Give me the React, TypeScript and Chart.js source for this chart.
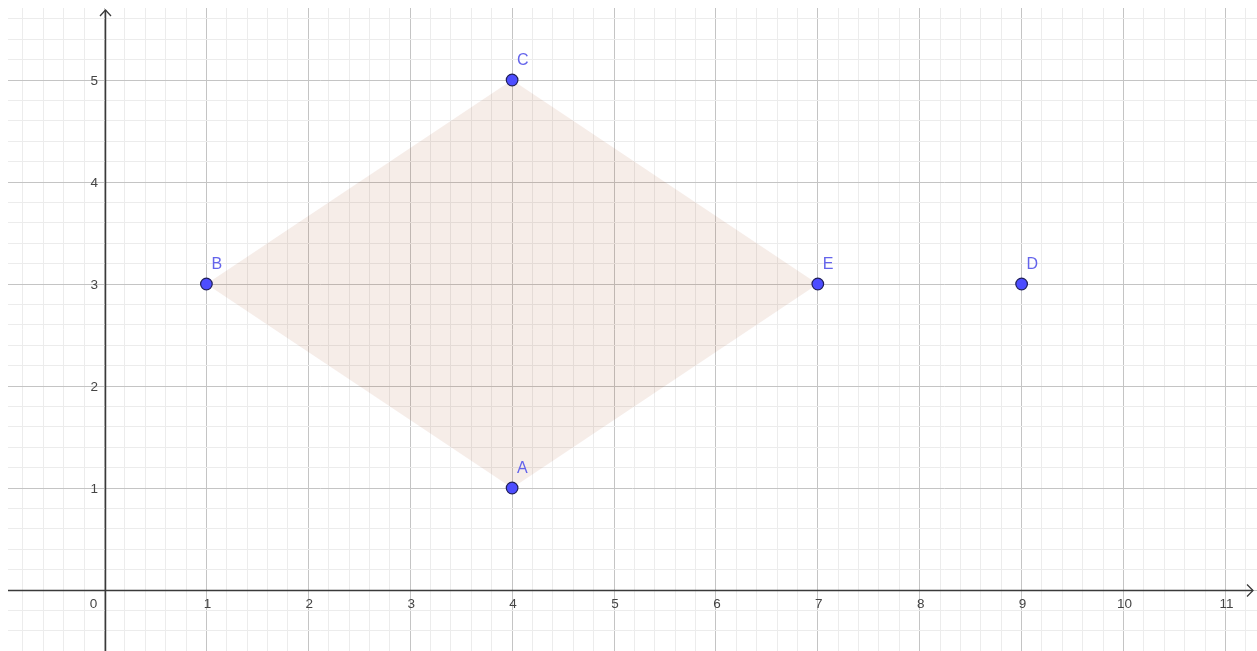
import React, { useEffect, useRef } from "react";
import { Chart, registerables } from "chart.js";

Chart.register(...registerables);

// Data
const pointNames = ["A", "B", "C", "D", "E"];
const pointX = [4, 1, 4, 9, 7];
const pointY = [1, 3, 5, 3, 3];
// Polygon vertices (closed): B -> C -> E -> A -> B
const polygonX = [1, 4, 7, 4, 1];
const polygonY = [3, 5, 3, 1, 3];
// Axis tick labels
const xTickLabels = [0, 1, 2, 3, 4, 5, 6, 7, 8, 9, 10, 11];
const yTickLabels = [1, 2, 3, 4, 5];

const X_MIN = -0.947;
const X_MAX = 11.31;
const Y_MIN = -0.598;
const Y_MAX = 5.706;

const W = 1257;
const H = 651;
const PAD = 8;

const gridTicks = (min: number, max: number) => {
  const out: { value: number }[] = [];
  for (let i = Math.ceil(min * 5); i <= Math.floor(max * 5); i++) {
    out.push({ value: i / 5 });
  }
  return out;
};

const isMajor = (v: number) => Math.abs(v - Math.round(v)) < 1e-6;

const decorPlugin = {
  id: "decor",
  beforeDatasetsDraw(chart: any) {
    const ctx = chart.ctx;
    const xs = chart.scales.x;
    const ys = chart.scales.y;
    const x0 = Math.round(xs.getPixelForValue(0)) + 0.5;
    const y0 = Math.round(ys.getPixelForValue(0)) + 0.5;
    ctx.save();
    // axes
    ctx.strokeStyle = "#3a3a3a";
    ctx.lineWidth = 1.5;
    ctx.beginPath();
    ctx.moveTo(PAD, y0);
    ctx.lineTo(W - 4, y0);
    ctx.moveTo(x0, H);
    ctx.lineTo(x0, 10);
    ctx.stroke();
    // arrows
    ctx.lineWidth = 1.3;
    ctx.beginPath();
    ctx.moveTo(x0 - 5.5, 16);
    ctx.lineTo(x0, 10);
    ctx.lineTo(x0 + 5.5, 16);
    ctx.moveTo(W - 10, y0 - 6);
    ctx.lineTo(W - 4, y0);
    ctx.lineTo(W - 10, y0 + 6);
    ctx.stroke();
    // tick labels
    ctx.fillStyle = "#454545";
    ctx.font = "13.5px 'Liberation Sans', Arial, sans-serif";
    ctx.textBaseline = "middle";
    ctx.textAlign = "center";
    xTickLabels.forEach((v) => {
      const px = xs.getPixelForValue(v);
      if (v === 0) {
        ctx.fillText(String(v), px - 11, y0 + 13.5);
      } else {
        ctx.fillText(String(v), px + 1, y0 + 13.5);
      }
    });
    ctx.textAlign = "right";
    yTickLabels.forEach((v) => {
      const py = ys.getPixelForValue(v);
      ctx.fillText(String(v), x0 - 7.5, py + 1);
    });
    ctx.restore();
  },
  afterDatasetsDraw(chart: any) {
    const ctx = chart.ctx;
    const xs = chart.scales.x;
    const ys = chart.scales.y;
    ctx.save();
    ctx.fillStyle = "rgb(100, 100, 235)";
    ctx.font = "16px 'Liberation Sans', Arial, sans-serif";
    ctx.textAlign = "left";
    ctx.textBaseline = "middle";
    pointNames.forEach((n, i) => {
      const px = xs.getPixelForValue(pointX[i]);
      const py = ys.getPixelForValue(pointY[i]);
      ctx.fillText(n, px + 5, py - 19);
    });
    ctx.restore();
  },
};

export default function App() {
  const ref = useRef<HTMLCanvasElement | null>(null);

  useEffect(() => {
    document.body.style.margin = "0";
    document.body.style.background = "#ffffff";
    const canvas = ref.current;
    if (!canvas) return;
    const scaleCommon = (min: number, max: number) => ({
      type: "linear" as const,
      min,
      max,
      afterBuildTicks: (axis: any) => {
        axis.ticks = gridTicks(min, max);
      },
      ticks: { display: false },
      border: { display: false },
      grid: {
        drawTicks: false,
        lineWidth: 1,
        color: (c: any) => (c.tick && isMajor(c.tick.value) ? "#c4c4c4" : "#ececec"),
      },
    });
    const chart = new Chart(canvas, {
      type: "scatter",
      data: {
        datasets: [
          {
            label: "polygon",
            data: polygonX.map((x, i) => ({ x, y: polygonY[i] })),
            showLine: true,
            fill: "shape",
            backgroundColor: "rgba(153, 51, 0, 0.09)",
            borderColor: "rgba(0,0,0,0)",
            borderWidth: 0,
            pointRadius: 0,
            tension: 0,
            order: 1,
          } as any,
          {
            label: "points",
            data: pointX.map((x, i) => ({ x, y: pointY[i] })),
            pointRadius: 5.8,
            pointBorderWidth: 1.2,
            backgroundColor: "rgb(77, 77, 255)",
            borderColor: "rgb(30, 30, 90)",
            order: 0,
          },
        ],
      },
      options: {
        animation: false,
        responsive: false,
        events: [],
        layout: { padding: { top: PAD, left: PAD, right: 0, bottom: 0 }, autoPadding: false },
        plugins: {
          legend: { display: false },
          tooltip: { enabled: false },
        },
        scales: {
          x: scaleCommon(X_MIN, X_MAX),
          y: scaleCommon(Y_MIN, Y_MAX),
        },
      },
      plugins: [decorPlugin],
    });
    return () => chart.destroy();
  }, []);

  return (
    <div style={{ width: W, height: H, background: "#fff" }}>
      <canvas ref={ref} width={W} height={H} style={{ display: "block" }} />
    </div>
  );
}
